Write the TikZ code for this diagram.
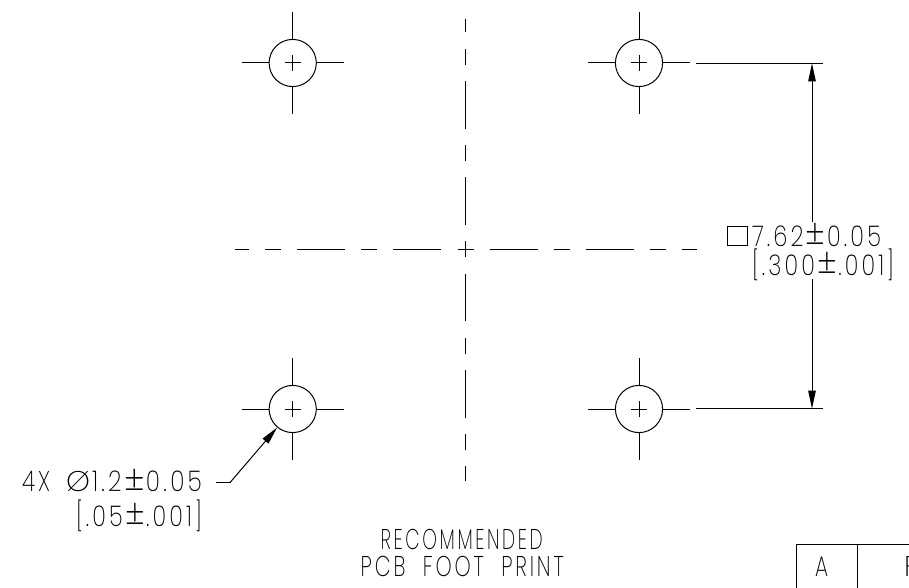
\documentclass[tikz,border=0pt]{standalone}
\usepackage{fontspec}
\usepackage{graphicx}
\setsansfont[LetterSpace=14,WordSpace=2]{Poppins ExtraLight}
\usetikzlibrary{arrows.meta}
\newlength\pxu
\setlength\pxu{0.75pt}
\newcommand{\lbl}[2]{\resizebox{#1\pxu}{\height}{#2}}
\newcommand{\plm}{\kern0.1em\smash{\raisebox{-0.1em}{\scalebox{1.4}{±}}}\kern0.06em}
\tikzset{
  ln/.style={line width=0.75pt,black},
  hole/.style={circle,draw,line width=0.75pt,inner sep=0pt,minimum size=35.4pt},
  txt/.style={anchor=base west,inner sep=0pt,outer sep=0pt,font=\fontsize{21.4pt}{24pt}\sffamily},
  dimtip/.style={-{Triangle[length=13.5pt,width=5.6pt]}}
}
\begin{document}
\begin{tikzpicture}[x=0.75pt,y=-0.75pt]
\useasboundingbox (0,0) rectangle (909,588);
\clip (0,0) rectangle (909,588);
% holes
\node[hole] (h1) at (292.7,63) {};
\node[hole] (h2) at (639,63) {};
\node[hole] (h3) at (292.7,409) {};
\node[hole] (h4) at (639,409) {};
\foreach \n in {h1,h2,h3,h4}{
  \draw[ln] (\n.north) -- ++(0,-26.5);
  \draw[ln] (\n.south) -- ++(0,26.5);
  \draw[ln] (\n.west) -- ++(-27,0);
  \draw[ln] (\n.east) -- ++(27,0);
  \draw[ln] ([xshift=-8\pxu]\n.center) -- ([xshift=8\pxu]\n.center);
  \draw[ln] ([yshift=-8\pxu]\n.center) -- ([yshift=8\pxu]\n.center);
}
% centre lines
\foreach \a/\b in {19/32,49/65,81/129,145/161,177/225,241/257,273.7/321,338/354,370/418,434/450,466/481}
  \draw[ln] (465.8,\a) -- (465.8,\b);
\foreach \a/\b in {235/249,265/281,297/345,361/377,393/441,458/474,489.5/538,553.5/570,586/634,650/666,682/697}
  \draw[ln] (\a,249.3) -- (\b,249.3);
% dimension
\coordinate (e1a) at (696,63.3);
\coordinate (e1b) at (823,63.3);
\coordinate (e2a) at (696,408.7);
\coordinate (e2b) at (823,408.7);
\draw[ln] (e1a) -- (e1b);
\draw[ln] (e2a) -- (e2b);
\coordinate (d1) at (812,63.3);
\coordinate (d1g) at (812,222);
\coordinate (d2g) at (812,279);
\coordinate (d2) at (812,408.7);
\draw[ln,dimtip] (d1g) -- (d1);
\draw[ln,dimtip] (d2g) -- (d2);
\draw[line width=0.6pt] (727.3,226) rectangle (747.7,245.7);
\node[txt] (t1) at (752,246) {\lbl{129}{7.62\plm 0.05}};
\node[txt] (t2) at (752,275) {\lbl{142}{[.300\plm .001]}};
% leader
\coordinate (l1) at (215.7,482);
\coordinate (l2) at (230.5,482);
\draw[ln] (l1) -- (l2);
\draw[ln,dimtip] (l2) -- (h3.230);
\node[txt] (t3) at (22,491.7) {\lbl{28}{4X}};
\node[txt] (t4) at (66,491.7) {\lbl{24}{Ø}};
\node[txt] (t5) at (92,491.7) {\lbl{110}{1.2\plm 0.05}};
\node[txt] (t6) at (76,526) {\lbl{126}{[.05\plm .001]}};
% title
\node[txt] (t7) at (380.7,549) {\lbl{162}{RECOMMENDED}};
\node[txt] (t8) at (360.7,576) {\lbl{203}{PCB FOOT PRINT}};
% table
\coordinate (ta) at (796.5,544.3);
\coordinate (tb) at (909,544.3);
\coordinate (tc) at (796.5,588);
\coordinate (td) at (857,544.3);
\coordinate (te) at (857,588);
\draw[ln] (tb) -- (ta) -- (tc);
\draw[ln] (td) -- (te);
\node[txt] (t9) at (815,576.7) {\lbl{13}{A}};
\node[txt] (t10) at (904,576.7) {\lbl{14}{F}};
\end{tikzpicture}
\end{document}
